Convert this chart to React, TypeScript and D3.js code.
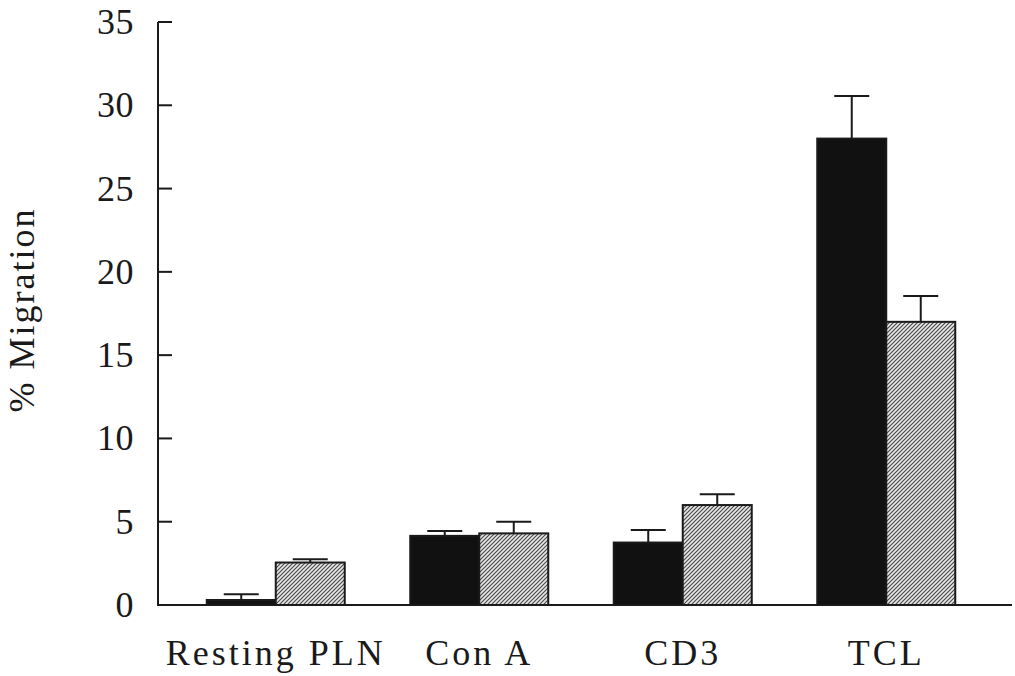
import React from "react";
import * as d3 from "d3";

const categories = ["Resting PLN", "Con A", "CD3", "TCL"];
const blackValues = [0.3, 4.15, 3.75, 28.0];
const blackErrors = [0.35, 0.3, 0.75, 2.55];
const hatchValues = [2.55, 4.3, 6.0, 17.0];
const hatchErrors = [0.2, 0.7, 0.65, 1.55];
const yTicks = [0, 5, 10, 15, 20, 25, 30, 35];

const W = 1015;
const H = 676;

export default function App() {
  const y = d3.scaleLinear().domain([0, 35]).range([605, 22]);
  const x = d3.scalePoint<string>().domain(categories).range([174, 988]).padding(0.5);
  const barW = 69;
  const capW = 35;
  const font = "'Liberation Serif', 'Times New Roman', serif";
  const ink = "#1a1a1a";

  const bars: { cx: number; v: number; e: number; hatch: boolean; key: string }[] = [];
  categories.forEach((c, i) => {
    const cx = x(c)!;
    bars.push({ cx: cx - barW / 2, v: blackValues[i], e: blackErrors[i], hatch: false, key: c + "b" });
    bars.push({ cx: cx + barW / 2, v: hatchValues[i], e: hatchErrors[i], hatch: true, key: c + "h" });
  });

  return (
    <svg
      width={W}
      height={H}
      style={{ position: "absolute", left: 0, top: 0, background: "#fff" }}
    >
      <defs>
        <pattern id="hatch" width="4" height="4" patternUnits="userSpaceOnUse">
          <rect width="4" height="4" fill="#e8e8e8" />
          <path d="M-1,1 L1,-1 M0,4 L4,0 M3,5 L5,3" stroke="#4a4a4a" strokeWidth="1.2" />
        </pattern>
      </defs>

      {bars.map((b) => (
        <g key={b.key + "e"} stroke={ink} strokeWidth={2}>
          <line x1={b.cx} x2={b.cx} y1={y(b.v)} y2={y(b.v + b.e)} />
          <line x1={b.cx - capW / 2} x2={b.cx + capW / 2} y1={y(b.v + b.e)} y2={y(b.v + b.e)} />
        </g>
      ))}

      {bars.map((b) => (
        <rect
          key={b.key}
          x={b.cx - barW / 2}
          y={y(b.v)}
          width={barW}
          height={y(0) - y(b.v)}
          fill={b.hatch ? "url(#hatch)" : "#111"}
          stroke={ink}
          strokeWidth={2}
        />
      ))}

      <line x1={158} x2={158} y1={y(35)} y2={y(0)} stroke={ink} strokeWidth={2} />
      <line x1={157} x2={1012} y1={y(0)} y2={y(0)} stroke={ink} strokeWidth={2} />
      {yTicks.map((t) => (
        <g key={t}>
          <line x1={158} x2={172} y1={y(t)} y2={y(t)} stroke={ink} strokeWidth={2} />
          <text
            x={134}
            y={y(t) + 12}
            textAnchor="end"
            fontFamily={font}
            fontSize={36}
            letterSpacing={0.5}
            fill={ink}
          >
            {t}
          </text>
        </g>
      ))}

      {categories.map((c) => (
        <text
          key={c}
          x={x(c)!}
          y={665}
          textAnchor="middle"
          fontFamily={font}
          fontSize={36}
          letterSpacing={3}
          fill={ink}
        >
          {c}
        </text>
      ))}

      <text
        transform={`translate(34,310) rotate(-90)`}
        textAnchor="middle"
        fontFamily={font}
        fontSize={36}
        letterSpacing={2}
        fill={ink}
      >
        % Migration
      </text>
    </svg>
  );
}
